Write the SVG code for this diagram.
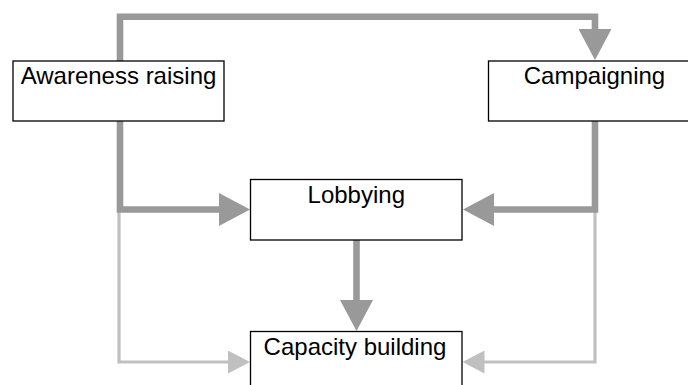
<svg xmlns="http://www.w3.org/2000/svg" width="688" height="385" viewBox="0 0 688 385">
  <style>
    .box { fill: #ffffff; stroke: #000000; stroke-width: 1.3; }
    .lbl { font-family: "Liberation Sans", Arial, sans-serif; font-size: 24px; fill: #000000; text-anchor: middle; }
    .dark { fill: none; stroke: #999999; stroke-width: 6.6; stroke-linejoin: miter; stroke-linecap: butt; }
    .light { fill: none; stroke: #c0c0c0; stroke-width: 3.2; stroke-linejoin: miter; stroke-linecap: butt; }
  </style>
  <defs>
    <marker id="ahDark" markerUnits="userSpaceOnUse" markerWidth="32" markerHeight="33" refX="0.5" refY="16.5" orient="auto">
      <path d="M0,0 L31,16.5 L0,33 Z" fill="#999999"/>
    </marker>
    <marker id="ahLight" markerUnits="userSpaceOnUse" markerWidth="23" markerHeight="23" refX="0.5" refY="11.5" orient="auto">
      <path d="M0,0 L22,11.5 L0,23 Z" fill="#c0c0c0"/>
    </marker>
  </defs>
  <rect width="688" height="385" fill="#ffffff"/>
  <g id="connectors">
    <path class="light" d="M119,210 V362 H228.5" marker-end="url(#ahLight)"/>
    <path class="light" d="M595,210 V362 H484" marker-end="url(#ahLight)"/>
    <path class="dark" d="M120,61 V16.7 H595 V29.5" marker-end="url(#ahDark)"/>
    <path class="dark" d="M120,121 V209.5 H219.5" marker-end="url(#ahDark)"/>
    <path class="dark" d="M595,121 V209.5 H493.5" marker-end="url(#ahDark)"/>
    <path class="dark" d="M356.5,240 V300.5" marker-end="url(#ahDark)"/>
  </g>
  <g id="awareness">
    <rect class="box" x="13" y="61" width="211" height="60"/>
    <text class="lbl" x="118.5" y="83.5">Awareness raising</text>
  </g>
  <g id="campaigning">
    <rect class="box" x="488.5" y="61" width="212" height="60"/>
    <text class="lbl" x="594.5" y="83.5">Campaigning</text>
  </g>
  <g id="lobbying">
    <rect class="box" x="250.5" y="179.5" width="211.5" height="60.5"/>
    <text class="lbl" x="356.3" y="203">Lobbying</text>
  </g>
  <g id="capacity">
    <rect class="box" x="250.5" y="331.5" width="211.5" height="70"/>
    <text class="lbl" x="355" y="354.5">Capacity building</text>
  </g>
</svg>
